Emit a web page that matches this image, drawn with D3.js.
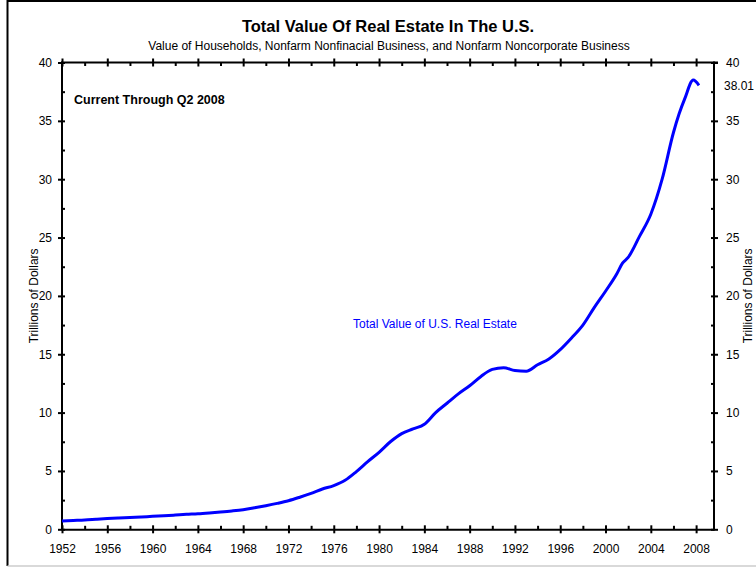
<!DOCTYPE html>
<html>
  <head>
    <style>
      body { margin: 0; background: #fff; }
      svg { font-family: "Liberation Sans", Arial, sans-serif; }
    </style>
    <script src="https://cdn.jsdelivr.net/npm/d3@7/dist/d3.min.js"></script>
  </head>
  <body>
    <script>
      // values (trillions of dollars)
      const years = [1952, 1953, 1954, 1955, 1956, 1957, 1958, 1959, 1960, 1961,
        1962, 1963, 1964, 1965, 1966, 1967, 1968, 1969, 1970, 1971,
        1972, 1973, 1974, 1975, 1976, 1977, 1978, 1979, 1980, 1981,
        1982, 1983, 1984, 1985, 1986, 1987, 1988, 1989, 1990, 1991,
        1992, 1993, 1994, 1995, 1996, 1997, 1998, 1999, 2000, 2001,
        2001.5, 2002, 2003, 2004, 2005, 2006, 2006.5, 2007, 2007.75, 2008.25];
      const values = [0.72, 0.76, 0.80, 0.86, 0.92, 0.97, 1.01, 1.06, 1.11, 1.16,
        1.22, 1.28, 1.33, 1.40, 1.48, 1.57, 1.68, 1.84, 2.02, 2.22,
        2.45, 2.75, 3.08, 3.45, 3.75, 4.2, 4.95, 5.8, 6.6, 7.5,
        8.2, 8.6, 9.0, 10.0, 10.8, 11.6, 12.3, 13.1, 13.7, 13.85,
        13.6, 13.55, 14.1, 14.6, 15.4, 16.4, 17.5, 19.0, 20.4, 21.9,
        22.8, 23.3, 25.1, 27.0, 30.0, 34.0, 35.6, 36.9, 38.5, 38.05];
      const majorYears = d3.range(1952, 2009, 4);
      const minorYears = d3.range(1954, 2009, 4);
      const majorY = d3.range(0, 41, 5);
      const minorY = d3.range(2.5, 40, 5);
      const lastValue = 38.01;

      const title = 'Total Value Of Real Estate In The U.S.';
      const subtitle = 'Value of Households, Nonfarm Nonfinacial Business, and Nonfarm Noncorporate Business';
      const seriesName = 'Total Value of U.S. Real Estate';
      const note = 'Current Through Q2 2008';
      const yTitle = 'Trillions of Dollars';

      const width = 756, height = 567;
      const plot = { left: 62, right: 714, top: 62.5, bottom: 529.3 };

      const svg = d3.select('body').append('svg')
        .attr('width', width).attr('height', height);

      // frame
      svg.append('line').attr('x1', 7.5).attr('x2', width).attr('y1', 1).attr('y2', 1)
        .attr('stroke', '#000').attr('stroke-width', 2);
      svg.append('line').attr('x1', 7.5).attr('x2', 7.5).attr('y1', 0).attr('y2', 566)
        .attr('stroke', '#000').attr('stroke-width', 2);
      svg.append('line').attr('x1', 7.5).attr('x2', width).attr('y1', 566).attr('y2', 566)
        .attr('stroke', '#ccc').attr('stroke-width', 1.5);

      const x = d3.scaleLinear().domain([1952, 2009.58]).range([plot.left, plot.right]);
      const y = d3.scaleLinear().domain([0, 40]).range([plot.bottom, plot.top]);

      const styleAxis = (g) => {
        g.select('.domain').attr('stroke-width', 2);
        g.selectAll('.tick line').attr('stroke-width', 2);
        g.selectAll('.tick text').attr('font-size', 12).attr('font-family', null).attr('fill', '#000');
      };

      // bottom
      svg.append('g').attr('transform', `translate(0,${plot.bottom})`)
        .call(d3.axisBottom(x).tickValues(minorYears).tickSize(-3.5).tickFormat('').tickSizeOuter(0))
        .call(g => g.select('.domain').remove())
        .call(styleAxis);
      svg.append('g').attr('transform', `translate(0,${plot.bottom})`)
        .call(d3.axisBottom(x).tickValues(majorYears).tickSize(4).tickPadding(11).tickSizeOuter(0)
          .tickFormat(d3.format('d')))
        .call(styleAxis)
        .call(g => g.selectAll('.tick line').attr('y1', -4));

      // top
      svg.append('g').attr('transform', `translate(0,${plot.top})`)
        .call(d3.axisTop(x).tickValues(minorYears).tickSize(-3.5).tickFormat('').tickSizeOuter(0))
        .call(g => g.select('.domain').remove())
        .call(styleAxis);
      svg.append('g').attr('transform', `translate(0,${plot.top})`)
        .call(d3.axisTop(x).tickValues(majorYears).tickSize(4).tickFormat('').tickSizeOuter(0))
        .call(styleAxis)
        .call(g => g.selectAll('.tick line').attr('y1', 4))
        .call(g => g.select('.domain').attr('d', `M${plot.left - 1},0H${plot.right + 4}`));

      // left
      svg.append('g').attr('transform', `translate(${plot.left},0)`)
        .call(d3.axisLeft(y).tickValues(minorY).tickSize(-3).tickFormat('').tickSizeOuter(0))
        .call(g => g.select('.domain').remove())
        .call(styleAxis);
      svg.append('g').attr('transform', `translate(${plot.left},0)`)
        .call(d3.axisLeft(y).tickValues(majorY).tickSize(4).tickPadding(6).tickSizeOuter(0))
        .call(styleAxis)
        .call(g => g.selectAll('.tick line').attr('x1', 3))
        .call(g => g.select('.domain').attr('d', `M0,${plot.bottom + 1}V${plot.top - 1}`));

      // right
      svg.append('g').attr('transform', `translate(${plot.right},0)`)
        .call(d3.axisRight(y).tickValues(minorY).tickSize(-3).tickFormat('').tickSizeOuter(0))
        .call(g => g.select('.domain').remove())
        .call(styleAxis);
      svg.append('g').attr('transform', `translate(${plot.right},0)`)
        .call(d3.axisRight(y).tickValues(majorY).tickSize(4).tickPadding(8).tickSizeOuter(0))
        .call(styleAxis)
        .call(g => g.selectAll('.tick line').attr('x1', -3))
        .call(g => g.select('.domain').attr('d', `M0,${plot.bottom + 1}V${plot.top - 1}`));

      svg.append('text')
        .attr('x', plot.right + 10).attr('y', y(lastValue)).attr('dy', '0.32em')
        .attr('font-size', 12).text(d3.format('.2f')(lastValue));

      // axis titles
      svg.append('text')
        .attr('transform', `translate(34,${(plot.top + plot.bottom) / 2}) rotate(-90)`)
        .attr('text-anchor', 'middle').attr('dy', '0.35em').attr('font-size', 12)
        .text(yTitle);
      svg.append('text')
        .attr('transform', `translate(748,${(plot.top + plot.bottom) / 2}) rotate(-90)`)
        .attr('text-anchor', 'middle').attr('dy', '0.35em').attr('font-size', 12)
        .text(yTitle);

      // titles
      svg.append('text')
        .attr('x', 388).attr('y', 32).attr('text-anchor', 'middle')
        .attr('font-size', 16.5).attr('font-weight', 'bold').text(title);
      svg.append('text')
        .attr('x', 389).attr('y', 50).attr('text-anchor', 'middle')
        .attr('font-size', 12).text(subtitle);

      svg.append('text')
        .attr('x', 74).attr('y', 104)
        .attr('font-size', 12.5).attr('font-weight', 'bold').text(note);

      // series
      const points = years.map((yr, i) => ({ year: yr, value: values[i] }));
      const line = d3.line().curve(d3.curveMonotoneX).x(d => x(d.year)).y(d => y(d.value));
      svg.append('path').datum(points)
        .attr('d', line)
        .attr('fill', 'none')
        .attr('stroke', '#0000ff')
        .attr('stroke-width', 3)
        .attr('stroke-linejoin', 'round');

      svg.append('text')
        .attr('x', 353).attr('y', 328)
        .attr('font-size', 12).attr('fill', '#0000ff').text(seriesName);
    </script>
  </body>
</html>
